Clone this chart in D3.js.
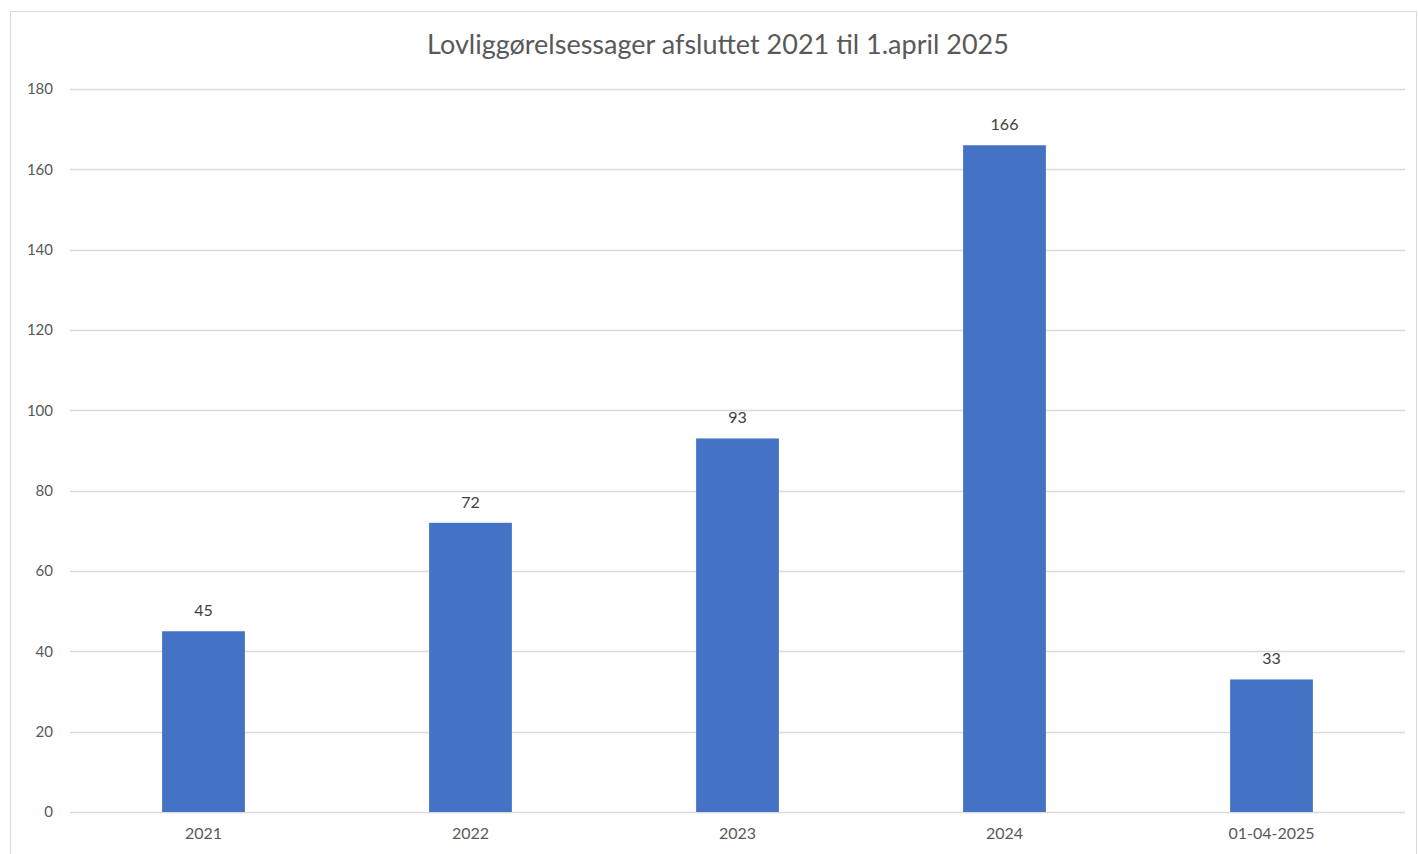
<!DOCTYPE html>
<html>
<head>
<meta charset="utf-8">
<script src="https://cdn.jsdelivr.net/npm/d3@7"></script>
<style>
  body { margin: 0; background: #fff; }
  text { font-family: Lato, "Open Sans", sans-serif; }
</style>
</head>
<body>
<div id="app"></div>
<script>
// chart data
const CATEGORIES = ['2021', '2022', '2023', '2024', '01-04-2025'];
const VALUES = [45, 72, 93, 166, 33];
const Y_TICKS = [0, 20, 40, 60, 80, 100, 120, 140, 160, 180];
const TITLE = 'Lovliggørelsessager afsluttet 2021 til 1.april 2025';

const width = 1418;
const height = 854;
const margin = {top: 89, left: 70, bottom: 42, right: 13};

const svg = d3.select('#app')
  .append('svg')
  .attr('width', width)
  .attr('height', height);

// chart border
svg.append('rect')
  .attr('x', 10.5)
  .attr('y', 11.5)
  .attr('width', 1406)
  .attr('height', 860)
  .style('fill', 'none')
  .style('stroke', '#d9d9d9')
  .style('stroke-width', 1);

const xScale = d3.scaleBand()
  .domain(CATEGORIES)
  .range([margin.left, width - margin.right])
  .paddingInner(0.69)
  .paddingOuter(0.345);

const yScale = d3.scaleLinear()
  .domain([0, 180])
  .range([height - margin.bottom, margin.top]);

// gridlines
svg.append('g')
  .selectAll('line')
  .data(Y_TICKS)
  .join('line')
  .attr('x1', margin.left)
  .attr('x2', width - margin.right)
  .attr('y1', d => Math.round(yScale(d)) + 0.5)
  .attr('y2', d => Math.round(yScale(d)) + 0.5)
  .style('stroke', '#d9d9d9')
  .style('stroke-width', 1.5);

// y axis labels
const yAxis = svg.append('g')
  .attr('transform', `translate(${margin.left - 17}, 0)`)
  .call(d3.axisLeft(yScale).tickValues(Y_TICKS).tickSize(0).tickPadding(0));
yAxis.select('.domain').remove();
yAxis.selectAll('text')
  .style('font-size', '15px')
  .style('fill', '#595959')
  .style('font-family', 'Lato, "Open Sans", sans-serif');

// x axis labels
const xAxis = svg.append('g')
  .attr('transform', `translate(0, ${height - margin.bottom})`)
  .call(d3.axisBottom(xScale).tickSize(0).tickPadding(16));
xAxis.select('.domain').remove();
xAxis.selectAll('text')
  .style('font-size', '16px')
  .style('fill', '#595959')
  .style('font-family', 'Lato, "Open Sans", sans-serif');

// bars
svg.append('g')
  .selectAll('rect')
  .data(VALUES)
  .join('rect')
  .attr('x', (d, i) => xScale(CATEGORIES[i]))
  .attr('y', d => yScale(d))
  .attr('width', xScale.bandwidth())
  .attr('height', d => yScale(0) - yScale(d))
  .style('fill', '#4472c4');

// data labels
svg.append('g')
  .selectAll('text')
  .data(VALUES)
  .join('text')
  .attr('x', (d, i) => xScale(CATEGORIES[i]) + xScale.bandwidth() / 2)
  .attr('y', d => yScale(d) - 15)
  .attr('text-anchor', 'middle')
  .style('font-size', '16px')
  .style('fill', '#404040')
  .text(d => d);

// title
svg.append('text')
  .attr('x', 718)
  .attr('y', 54)
  .attr('text-anchor', 'middle')
  .style('font-size', '27px')
  .style('fill', '#595959')
  .text(TITLE);
</script>
</body>
</html>
